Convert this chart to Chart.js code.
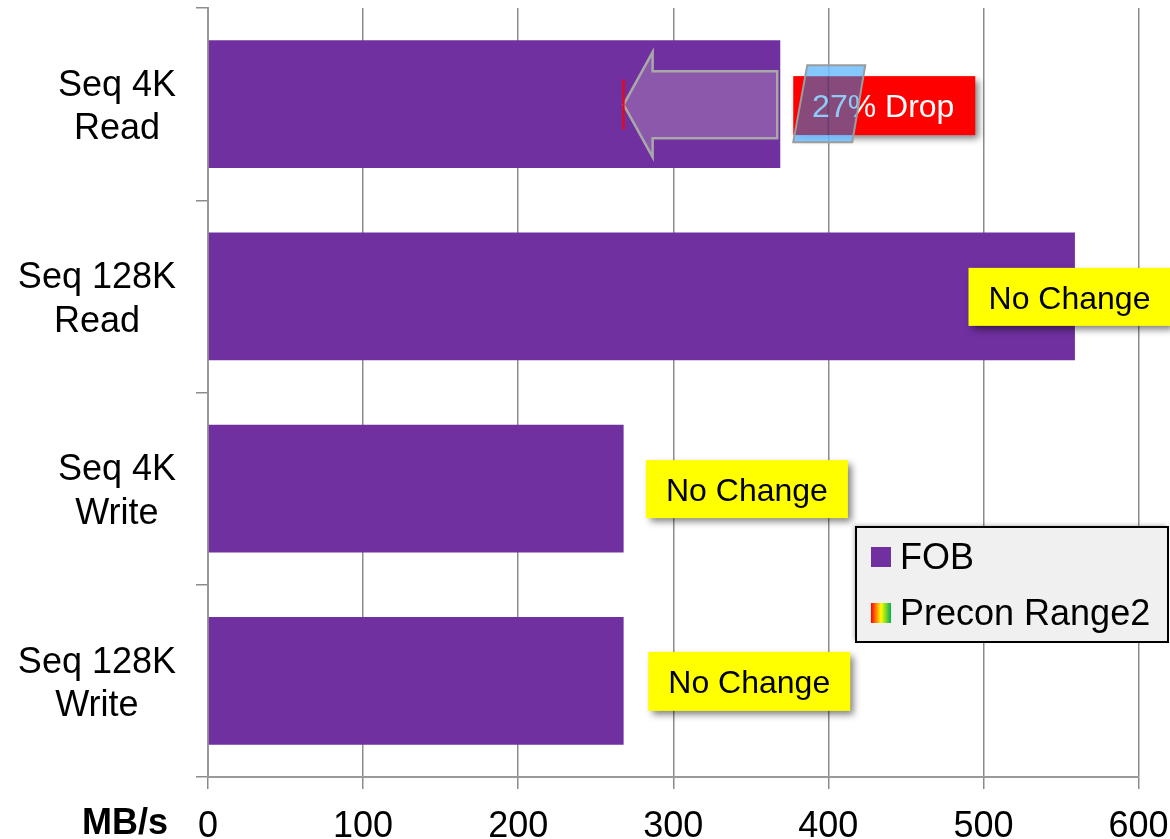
<!DOCTYPE html>
<html>
<head>
<meta charset="utf-8">
<script src="https://cdn.jsdelivr.net/npm/chart.js@4.4.1/dist/chart.umd.min.js"></script>
<style>
  html, body { margin: 0; padding: 0; background: #ffffff; }
  #wrap { position: relative; width: 1170px; height: 839px; }
</style>
</head>
<body>
<div id="wrap"><canvas id="chart"></canvas></div>
<script>
// ---- data ----
const categories = [['Seq 4K', 'Read'], ['Seq 128K', 'Read'], ['Seq 4K', 'Write'], ['Seq 128K', 'Write']];
const fobValues = [369, 559, 268, 268];          // MB/s, fresh-out-of-box
const preconValues = [268, 559, 268, 268];       // MB/s, after preconditioning (Range2)
const noteTexts = ['27% Drop', 'No Change', 'No Change', 'No Change'];
const xTickValues = [0, 100, 200, 300, 400, 500, 600];
const legendLabels = ['FOB', 'Precon Range2'];
const unitLabel = 'MB/s';

// ---- styling ----
const FONT = '"Liberation Sans", Arial, Helvetica, sans-serif';
const PURPLE = '#7030a0';
const GRID = '#8c8c8c';

// callout placement (x centre in axis units, size in px)
const noteBoxes = [
  null,
  { x: 555.5, w: 202, h: 58 },
  { x: 347.5, w: 202, h: 58 },
  { x: 349, w: 202, h: 59 }
];

function shadowRect(ctx, x, y, w, h, fill) {
  ctx.save();
  ctx.shadowColor = 'rgba(0,0,0,0.5)';
  ctx.shadowBlur = 7;
  ctx.shadowOffsetX = 4;
  ctx.shadowOffsetY = 4;
  ctx.fillStyle = fill;
  ctx.fillRect(x, y, w, h);
  ctx.restore();
}

const decorations = {
  id: 'decorations',
  afterDraw(chart) {
    const ctx = chart.ctx;
    const xs = chart.scales.x;
    const ys = chart.scales.y;

    // category labels: block right-aligned to the axis, lines centred in the block
    ctx.save();
    ctx.font = '36px ' + FONT;
    ctx.fillStyle = '#000';
    ctx.textAlign = 'center';
    ctx.textBaseline = 'middle';
    const lineH = 43.5;
    categories.forEach((lines, i) => {
      const yc = ys.getPixelForValue(i) + 3.5;
      const widest = Math.max(...lines.map(l => ctx.measureText(l).width));
      const cx = 176 - widest / 2;
      lines.forEach((l, k) => {
        ctx.fillText(l, cx, yc + (k - (lines.length - 1) / 2) * lineH);
      });
    });
    // unit label
    ctx.font = 'bold 36px ' + FONT;
    ctx.fillText(unitLabel, 125, 824);
    ctx.restore();

    // ---- drop arrow on the first row ----
    const yc0 = ys.getPixelForValue(0) + 0.5;
    const tipX = xs.getPixelForValue(preconValues[0]);
    const tailX = xs.getPixelForValue(fobValues[0]) - 3;
    const headX = tipX + 29;
    ctx.save();
    ctx.beginPath();
    ctx.moveTo(tipX, yc0);
    ctx.lineTo(headX, yc0 - 52.5);
    ctx.lineTo(headX, yc0 - 33.5);
    ctx.lineTo(tailX, yc0 - 33.5);
    ctx.lineTo(tailX, yc0 + 33.5);
    ctx.lineTo(headX, yc0 + 33.5);
    ctx.lineTo(headX, yc0 + 52.5);
    ctx.closePath();
    ctx.fillStyle = '#8b58ab';
    ctx.fill();
    ctx.strokeStyle = '#a8a8a8';
    ctx.lineWidth = 2.5;
    ctx.lineJoin = 'miter';
    ctx.stroke();
    // marker at the preconditioned level
    ctx.beginPath();
    ctx.moveTo(tipX, yc0 - 25);
    ctx.lineTo(tipX, yc0 + 25);
    ctx.strokeStyle = '#ff0000';
    ctx.lineWidth = 2;
    ctx.stroke();
    ctx.restore();

    // ---- red "drop" callout ----
    const bx = xs.getPixelForValue(fobValues[0]) + 13;
    const by = yc0 - 28.5;
    const bw = 182, bh = 59;
    shadowRect(ctx, bx, by, bw, bh, '#ff0000');
    const dropText = noteTexts[0];
    const tx = bx + bw / 2 - 1, ty = by + bh / 2 + 3;
    ctx.save();
    ctx.font = '32px ' + FONT;
    ctx.textAlign = 'center';
    ctx.textBaseline = 'middle';
    ctx.fillStyle = '#ffffff';
    ctx.fillText(dropText, tx, ty);
    ctx.restore();

    // slanted highlight over the figure
    const para = new Path2D();
    para.moveTo(bx + 14, by - 11);
    para.lineTo(bx + 72, by - 11);
    para.lineTo(bx + 59, by + bh + 7);
    para.lineTo(bx, by + bh + 7);
    para.closePath();
    ctx.save();
    ctx.clip(para);
    ctx.fillStyle = 'rgba(110,190,255,0.85)';
    ctx.fillRect(bx - 5, by - 15, 90, bh + 30);
    ctx.beginPath();
    ctx.rect(bx, by, bw, bh);
    ctx.clip();
    ctx.fillStyle = '#874a7a';
    ctx.fillRect(bx, by, bw, bh);
    const gx = xs.getPixelForValue(400);
    ctx.strokeStyle = 'rgba(70,60,110,0.6)';
    ctx.lineWidth = 1.5;
    ctx.beginPath();
    ctx.moveTo(gx, by);
    ctx.lineTo(gx, by + bh);
    ctx.stroke();
    ctx.font = '32px ' + FONT;
    ctx.textAlign = 'center';
    ctx.textBaseline = 'middle';
    ctx.fillStyle = '#8ecbf7';
    ctx.fillText(dropText, tx, ty);
    ctx.restore();
    ctx.save();
    ctx.strokeStyle = '#9c9c9c';
    ctx.lineWidth = 2;
    ctx.stroke(para);
    ctx.restore();

    // ---- yellow "no change" callouts ----
    noteBoxes.forEach((nb, i) => {
      if (!nb) return;
      const cx = xs.getPixelForValue(nb.x);
      const cy = ys.getPixelForValue(i) + 0.5;
      shadowRect(ctx, cx - nb.w / 2, cy - nb.h / 2, nb.w, nb.h, '#ffff00');
      ctx.save();
      ctx.font = '32px ' + FONT;
      ctx.textAlign = 'center';
      ctx.textBaseline = 'middle';
      ctx.fillStyle = '#000000';
      ctx.fillText(noteTexts[i], cx, cy + 3);
      ctx.restore();
    });

    // ---- legend ----
    const lx = 856, ly = 527, lw = 312, lh = 115;
    ctx.save();
    ctx.shadowColor = 'rgba(0,0,0,0.25)';
    ctx.shadowBlur = 4;
    ctx.shadowOffsetX = -2;
    ctx.shadowOffsetY = -2;
    ctx.fillStyle = '#f0f0f0';
    ctx.fillRect(lx, ly, lw, lh);
    ctx.restore();
    ctx.save();
    ctx.strokeStyle = '#000000';
    ctx.lineWidth = 2;
    ctx.strokeRect(lx, ly, lw, lh);
    const swatchY = [547, 603];
    ctx.fillStyle = PURPLE;
    ctx.fillRect(lx + 15, swatchY[0], 20, 20);
    const grad = ctx.createLinearGradient(lx + 15, 0, lx + 35, 0);
    grad.addColorStop(0, '#ff0000');
    grad.addColorStop(0.5, '#ffff00');
    grad.addColorStop(1, '#00b050');
    ctx.fillStyle = grad;
    ctx.fillRect(lx + 15, swatchY[1], 20, 20);
    ctx.font = '36px ' + FONT;
    ctx.fillStyle = '#000000';
    ctx.textAlign = 'left';
    ctx.textBaseline = 'middle';
    legendLabels.forEach((t, k) => ctx.fillText(t, lx + 44, swatchY[k] + 12));
    ctx.restore();
  }
};

new Chart(document.getElementById('chart'), {
  type: 'bar',
  data: {
    labels: categories,
    datasets: [{
      label: legendLabels[0],
      data: fobValues,
      backgroundColor: PURPLE,
      borderWidth: 0,
      categoryPercentage: 1,
      barPercentage: 0.665
    }]
  },
  options: {
    indexAxis: 'y',
    responsive: true,
    maintainAspectRatio: false,
    animation: false,
    layout: { padding: { top: 8, right: 31.5, bottom: 0, left: 0 } },
    plugins: { legend: { display: false }, tooltip: { enabled: false } },
    scales: {
      x: {
        min: xTickValues[0],
        max: xTickValues[xTickValues.length - 1],
        afterBuildTicks: s => { s.ticks = xTickValues.map(v => ({ value: v })); },
        afterFit: s => { s.height = 62; s.paddingLeft = 0; s.paddingRight = 0; },
        grid: { color: GRID, lineWidth: 1.5, tickLength: 12, drawTicks: true },
        border: { display: true, color: '#999999', width: 2 },
        ticks: {
          font: { family: FONT, size: 36 },
          color: '#000000',
          padding: 16,
          maxRotation: 0
        }
      },
      y: {
        afterFit: s => { s.width = 208; s.paddingTop = 0; s.paddingBottom = 0; },
        grid: { drawOnChartArea: false, drawTicks: true, tickLength: 12, color: GRID, lineWidth: 1.5, offset: true },
        border: { display: true, color: '#999999', width: 2 },
        ticks: { display: false }
      }
    }
  },
  plugins: [decorations]
});
</script>
</body>
</html>
